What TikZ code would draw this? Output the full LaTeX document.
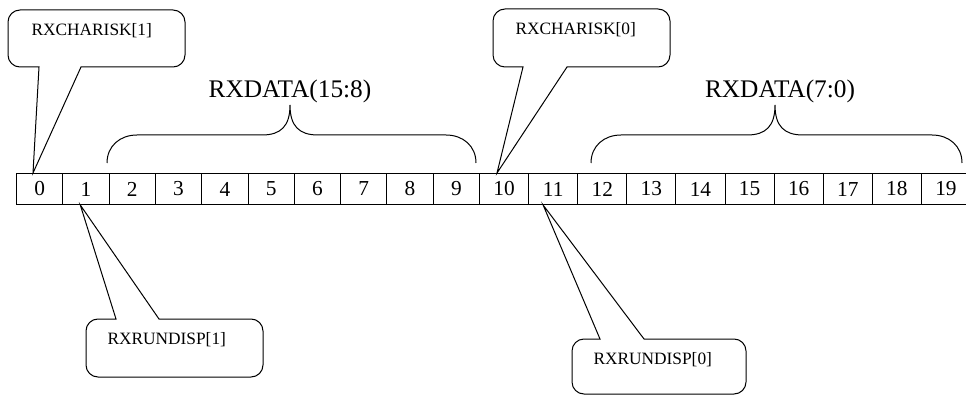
\documentclass[tikz,border=0pt]{standalone}
\usepackage{fontspec}
\setmainfont{Liberation Serif}

\begin{document}
\begin{tikzpicture}[x=.75pt,y=-.75pt,line width=.75pt,
  cell/.style={draw,anchor=north west,minimum height=23.25pt,inner sep=0pt,font=\fontsize{16}{16}\selectfont},
  tag/.style={anchor=west,inner sep=0pt,font=\fontsize{13}{13}\selectfont},
  field/.style={inner sep=0pt,font=\fontsize{19}{19}\selectfont}]
\useasboundingbox (0,0) rectangle (966,395);
% the two bytes of the word
\foreach\i in{0,...,9}{
    \node[cell,minimum width=34.73pt] (c\i) at ({16+46.3*\i},173) {\i};
}
\foreach\i in{10,...,19}{
    \node[cell,minimum width=36.83pt] (c\i) at ({479+49.1*(\i-10)},173) {\i};
}
% braces over the data bits
\draw (107,163) .. controls (107,146) and (120,135) .. (137,135) -- (262,135)
  .. controls (281,135) and (290,126) .. (290,105) .. controls (290,126) and (299,135) .. (318,135)
  -- (446,135) .. controls (463,135) and (476,146) .. (476,163);
\draw (591,163) .. controls (591,146) and (604,135) .. (621,135) -- (747,135)
  .. controls (766,135) and (775,126) .. (775,105) .. controls (775,126) and (784,135) .. (803,135)
  -- (932,135) .. controls (949,135) and (962,146) .. (962,163);
\node[field] (hi) at (290,91) {RXDATA(15:8)};
\node[field] (lo) at (780,91) {RXDATA(7:0)};
% callouts, k above and disp below
\draw (8,38) [rounded corners=9pt] -- (8,10) -- (185,10) -- (185,67) [sharp corners] -- (81,67)
  -- ([xshift=12.75pt]c0.north west) -- (39,67) [rounded corners=9pt] -- (8,67) -- cycle;
\node[tag] (k1) at (31,31) {RXCHARISK[1]};
\draw (493,38) [rounded corners=9pt] -- (493,9) -- (670,9) -- (670,67) [sharp corners] -- (567,67)
  -- ([xshift=13.5pt]c10.north west) -- (523,67) [rounded corners=9pt] -- (493,67) -- cycle;
\node[tag] (k0) at (515,30) {RXCHARISK[0]};
\draw (86,348) [rounded corners=9pt] -- (86,377) -- (263,377) -- (263,319) [sharp corners] -- (159,319)
  -- ([xshift=13.5pt]c1.south west) -- (116,319) [rounded corners=9pt] -- (86,319) -- cycle;
\node[tag] (d1) at (107,340) {RXRUNDISP[1]};
\draw (572,366) [rounded corners=9pt] -- (572,394) -- (746,394) -- (746,339) [sharp corners] -- (644,339)
  -- ([xshift=11.25pt]c11.south west) -- (600,339) [rounded corners=9pt] -- (572,339) -- cycle;
\node[tag] (d0) at (593,360) {RXRUNDISP[0]};
\end{tikzpicture}
\end{document}
